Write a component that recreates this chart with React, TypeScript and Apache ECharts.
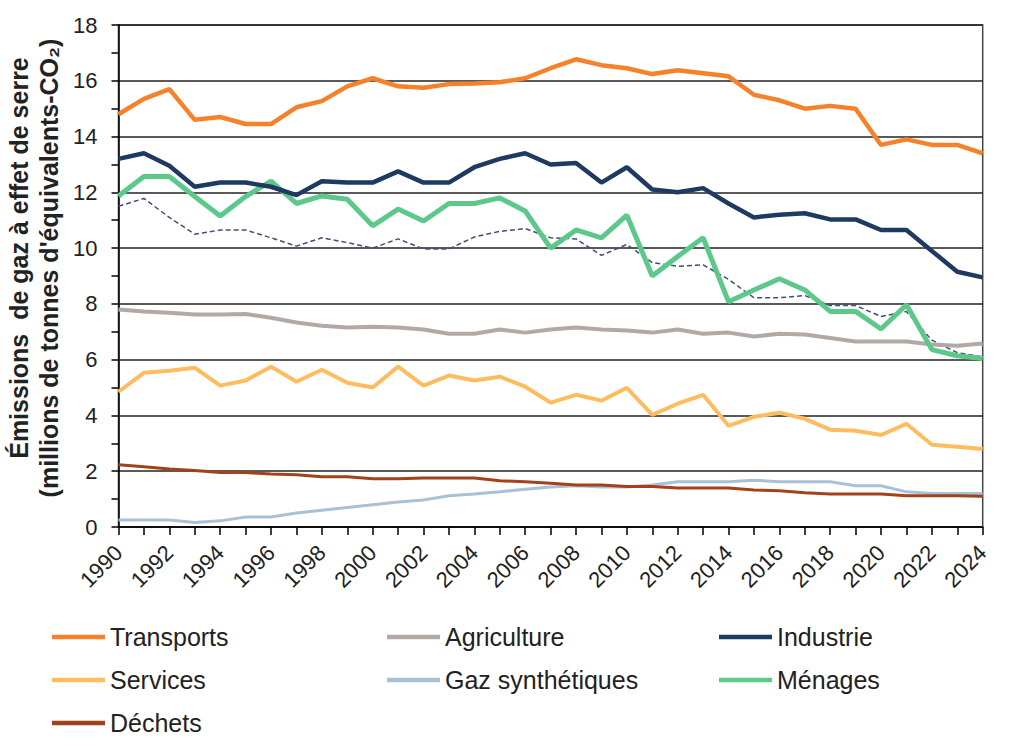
import React, { useEffect, useRef } from "react";
import * as echarts from "echarts";

const years = [
  "1990", "1991", "1992", "1993", "1994", "1995", "1996", "1997", "1998", "1999",
  "2000", "2001", "2002", "2003", "2004", "2005", "2006", "2007", "2008", "2009",
  "2010", "2011", "2012", "2013", "2014", "2015", "2016", "2017", "2018", "2019",
  "2020", "2021", "2022", "2023", "2024",
];

const transports = [14.8, 15.35, 15.7, 14.6, 14.7, 14.45, 14.45, 15.05, 15.27, 15.8, 16.09, 15.8, 15.75, 15.88, 15.9, 15.95, 16.09, 16.45, 16.77, 16.56, 16.45, 16.24, 16.38, 16.27, 16.16, 15.5, 15.3, 15.0, 15.1, 15.0, 13.7, 13.9, 13.7, 13.7, 13.4];
const industrie = [13.2, 13.4, 12.95, 12.2, 12.35, 12.35, 12.2, 11.9, 12.4, 12.35, 12.35, 12.75, 12.35, 12.35, 12.9, 13.2, 13.4, 13.0, 13.05, 12.35, 12.9, 12.1, 12.0, 12.15, 11.6, 11.1, 11.2, 11.25, 11.03, 11.03, 10.65, 10.65, 9.9, 9.15, 8.95];
const menages = [11.87, 12.57, 12.57, 11.85, 11.15, 11.85, 12.4, 11.6, 11.87, 11.75, 10.8, 11.4, 10.97, 11.6, 11.6, 11.8, 11.33, 10.0, 10.65, 10.37, 11.18, 9.0, 9.7, 10.37, 8.08, 8.5, 8.9, 8.5, 7.73, 7.73, 7.1, 7.97, 6.36, 6.14, 6.04];
const menagesCorriges = [11.5, 11.78, 11.1, 10.5, 10.65, 10.65, 10.37, 10.07, 10.37, 10.2, 10.0, 10.33, 9.97, 9.97, 10.4, 10.6, 10.7, 10.37, 10.33, 9.74, 10.13, 9.48, 9.35, 9.4, 8.88, 8.22, 8.22, 8.3, 7.94, 7.94, 7.55, 7.73, 6.7, 6.25, 6.1];
const agriculture = [7.8, 7.73, 7.68, 7.62, 7.62, 7.64, 7.5, 7.33, 7.22, 7.15, 7.18, 7.15, 7.08, 6.93, 6.93, 7.08, 6.97, 7.08, 7.15, 7.08, 7.05, 6.97, 7.08, 6.93, 6.97, 6.83, 6.93, 6.9, 6.78, 6.65, 6.65, 6.65, 6.54, 6.5, 6.58];
const services = [4.85, 5.53, 5.6, 5.71, 5.07, 5.25, 5.75, 5.21, 5.64, 5.17, 5.0, 5.75, 5.07, 5.43, 5.25, 5.39, 5.03, 4.46, 4.74, 4.53, 4.99, 4.02, 4.42, 4.74, 3.63, 3.95, 4.1, 3.88, 3.49, 3.45, 3.3, 3.7, 2.95, 2.88, 2.8];
const dechets = [2.23, 2.16, 2.08, 2.03, 1.95, 1.95, 1.9, 1.87, 1.8, 1.8, 1.73, 1.73, 1.76, 1.76, 1.76, 1.66, 1.62, 1.57, 1.51, 1.51, 1.45, 1.45, 1.4, 1.4, 1.4, 1.33, 1.3, 1.23, 1.18, 1.18, 1.18, 1.12, 1.12, 1.12, 1.1];
const gaz = [0.25, 0.25, 0.25, 0.16, 0.22, 0.36, 0.36, 0.5, 0.6, 0.7, 0.8, 0.9, 0.97, 1.12, 1.18, 1.26, 1.35, 1.43, 1.48, 1.43, 1.43, 1.51, 1.62, 1.62, 1.62, 1.68, 1.62, 1.62, 1.62, 1.48, 1.48, 1.26, 1.2, 1.2, 1.2];

const titleLine1 = "Émissions  de gaz à effet de serre";
const titleLine2 = "(millions de tonnes d'équivalents-CO₂)";

const FONT = "'Liberation Sans', Arial, sans-serif";

export default function App() {
  const ref = useRef<HTMLDivElement>(null);

  useEffect(() => {
    document.body.style.margin = "0";
    if (!ref.current) return;
    const chart = echarts.init(ref.current, null, { renderer: "svg" });

    const mk = (name: string, data: number[], color: string, width: number, type: any = "solid", z = 2) => ({
      name,
      type: "line",
      data,
      symbol: "none",
      z,
      itemStyle: { color },
      lineStyle: { color, width, type },
    });

    const legendItem = (name: string, left: number, cy: number) => ({
      data: [name],
      left,
      top: cy - 14,
      padding: 0,
      icon: "rect",
      itemWidth: 53,
      itemHeight: 4.5,
      itemGap: 0,
      selectedMode: false,
      textStyle: { fontSize: 25, lineHeight: 28, color: "#222", fontFamily: FONT },
    });

    chart.setOption({
      animation: false,
      backgroundColor: "#fff",
      grid: {
        left: 118.5,
        right: 41.3,
        top: 25,
        bottom: 225,
        show: true,
        borderColor: "#444",
        borderWidth: 1.5,
      },
      xAxis: {
        type: "category",
        data: years,
        boundaryGap: false,
        axisLine: { lineStyle: { color: "#000", width: 1.5 } },
        axisTick: { show: true, interval: 0, length: 8, lineStyle: { color: "#000", width: 1.5 } },
        axisLabel: { interval: 1, rotate: 45, fontSize: 22, color: "#222", fontFamily: FONT, margin: 22 },
        splitLine: { show: false },
      },
      yAxis: {
        type: "value",
        min: 0,
        max: 18,
        interval: 2,
        axisLine: { show: true, lineStyle: { color: "#000", width: 1.5 } },
        axisTick: { show: true, length: 7, lineStyle: { color: "#000", width: 1.5 } },
        minorTick: { show: true, splitNumber: 2, length: 7, lineStyle: { color: "#000", width: 1.5 } },
        axisLabel: { fontSize: 22, color: "#222", fontFamily: FONT, margin: 21 },
        splitLine: { show: true, lineStyle: { color: "#222", width: 1.5 } },
      },
      legend: [
        legendItem("Transports", 52, 637),
        legendItem("Services", 52, 680),
        legendItem("Déchets", 52, 723),
        legendItem("Agriculture", 387, 637),
        legendItem("Gaz synthétiques", 387, 680),
        legendItem("Industrie", 719, 637),
        legendItem("Ménages", 719, 680),
      ],
      graphic: [
        {
          type: "text",
          x: 19,
          y: 258,
          rotation: Math.PI / 2,
          style: {
            text: titleLine1,
            fontSize: 25,
            fontWeight: "bold",
            fontFamily: FONT,
            fill: "#222",
            align: "center",
            verticalAlign: "middle",
          },
        },
        {
          type: "text",
          x: 49,
          y: 268,
          rotation: Math.PI / 2,
          style: {
            text: titleLine2,
            fontSize: 25,
            fontWeight: "bold",
            fontFamily: FONT,
            fill: "#222",
            align: "center",
            verticalAlign: "middle",
          },
        },
      ],
      series: [
        mk("Ménages (climat corrigé)", menagesCorriges, "#3e5078", 1.5, [5, 3], 1),
        mk("Gaz synthétiques", gaz, "#a9c1d6", 3),
        mk("Déchets", dechets, "#a3421a", 3),
        mk("Agriculture", agriculture, "#b2a9a5", 4),
        mk("Services", services, "#fdbd5f", 4),
        mk("Ménages", menages, "#5cc98b", 5),
        mk("Industrie", industrie, "#1f3a60", 4.5),
        mk("Transports", transports, "#f5822a", 4.5),
      ],
    });

    return () => chart.dispose();
  }, []);

  return <div ref={ref} style={{ width: 1024, height: 752 }} />;
}
